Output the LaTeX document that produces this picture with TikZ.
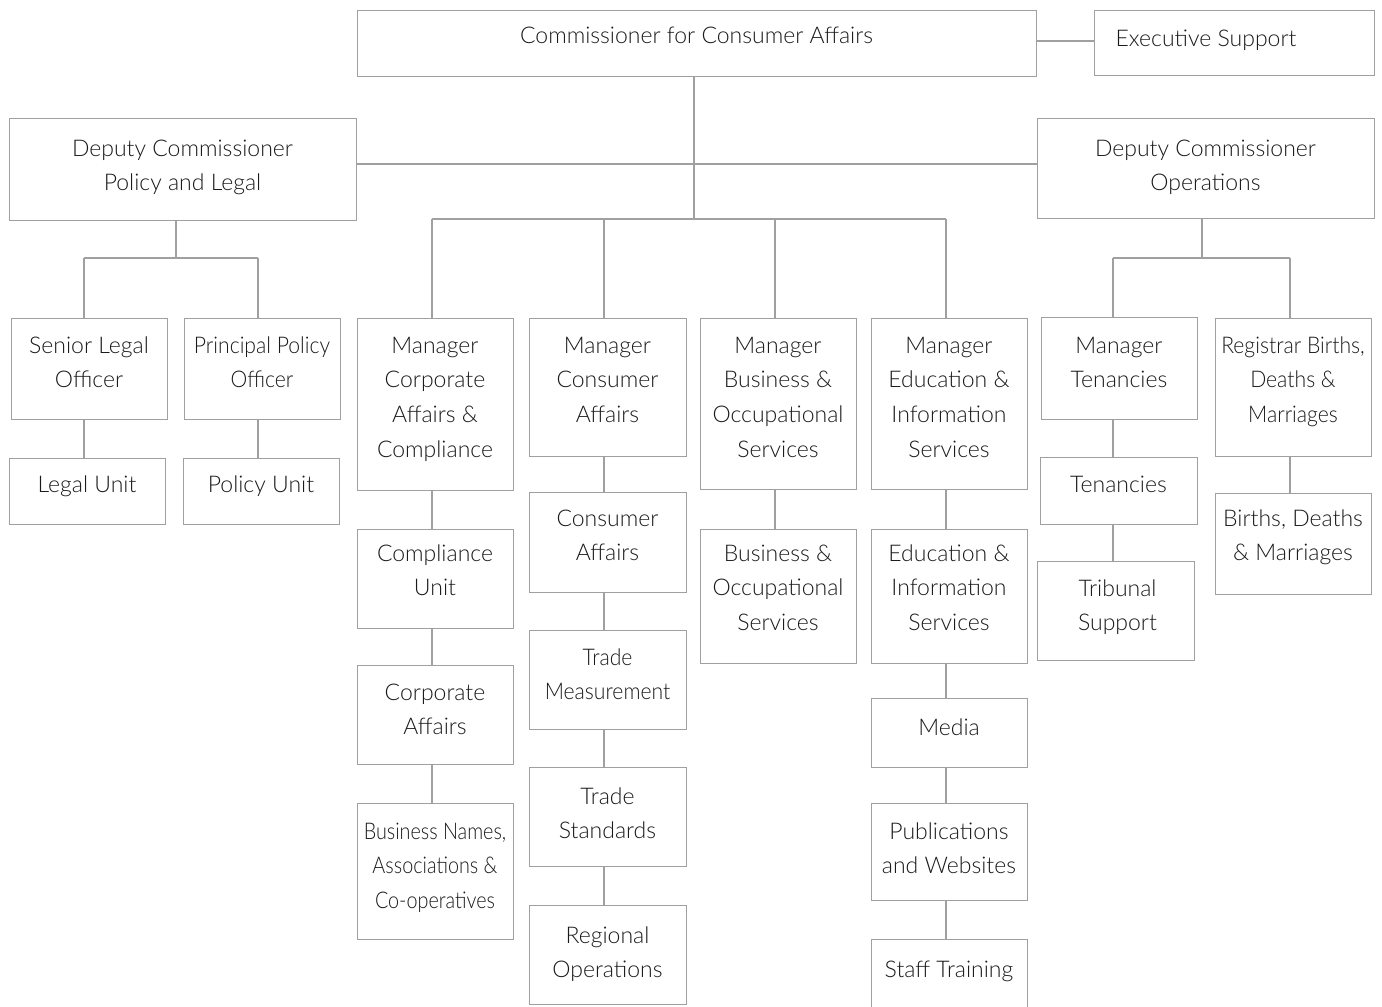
\documentclass[tikz,border=0pt]{standalone}
\usepackage{fontspec}
\setmainfont{Lato Light}
\newfontfamily\narrowfont{Lato Light}[FakeStretch=0.86]
\newfontfamily\semifont{Lato Light}[FakeStretch=0.92]
\definecolor{edge}{HTML}{A0A0A0}
\definecolor{ink}{HTML}{1A1A1A}
\tikzset{
  orgnode/.style={draw=edge, line width=1.2pt, fill=white, inner sep=0pt, rectangle},
  orglabel/.style={text=ink, align=center, inner sep=0pt, font=\fontsize{23}{34.7}\selectfont},
  narrowlabel/.style={font=\fontsize{23}{34.7}\narrowfont},
  semilabel/.style={font=\fontsize{23}{34.7}\semifont},
  conn/.style={draw=edge, line width=1.2pt}
}
\newcommand{\orgbox}[8]{%
  \pgfmathsetmacro{\obw}{#4-#2}\pgfmathsetmacro{\obh}{#5-#3}%
  \node[orgnode, minimum width=\obw pt, minimum height=\obh pt, anchor=north west] (#1) at (#2,#3) {};
  \node[orglabel, anchor=north, #7] (#1-t) at ({(#2+#4)/2},{#6-24.3}) {\strut #8};
}
\begin{document}
\begin{tikzpicture}[x=1pt,y=-1pt]
\useasboundingbox[fill=white] (0,0) rectangle (1382,1007);
% top
\orgbox{comm}{357}{10}{1036}{76}{43}{}{Commissioner for Consumer Affairs}
\orgbox{exec}{1094}{10}{1374}{75}{46}{xshift=-28pt}{Executive Support}
\orgbox{dpl}{9}{118}{356}{220}{156}{}{Deputy Commissioner\\Policy and Legal}
\orgbox{dop}{1037}{118}{1374}{218}{156}{}{Deputy Commissioner\\Operations}
% left branch
\orgbox{slo}{11}{318}{167}{419}{353}{}{Senior Legal\\Officer}
\orgbox{ppo}{184}{318}{340}{419}{353}{semilabel}{Principal Policy\\Officer}
\orgbox{lu}{9}{458}{165}{524}{492}{}{Legal Unit}
\orgbox{pu}{183}{458}{339}{524}{492}{}{Policy Unit}
% column 1
\orgbox{mcac}{357}{318}{513}{490}{353}{}{Manager\\Corporate\\Affairs \&\\Compliance}
\orgbox{cu}{357}{529}{513}{628}{561}{}{Compliance\\Unit}
\orgbox{ca}{357}{665}{513}{764}{700}{}{Corporate\\Affairs}
\orgbox{bn}{357}{803}{513}{939}{839}{narrowlabel}{Business Names,\\Associations \&\\Co-operatives}
% column 2
\orgbox{mca}{529}{318}{686}{456}{353}{}{Manager\\Consumer\\Affairs}
\orgbox{cons}{529}{492}{686}{592}{526}{}{Consumer\\Affairs}
\orgbox{tm}{529}{630}{686}{729}{665}{semilabel}{Trade\\Measurement}
\orgbox{ts}{529}{767}{686}{866}{804}{}{Trade\\Standards}
\orgbox{ro}{529}{905}{686}{1004}{943}{}{Regional\\Operations}
% column 3
\orgbox{mbos}{700}{318}{856}{489}{353}{}{Manager\\Business \&\\Occupational\\Services}
\orgbox{bos}{700}{529}{856}{663}{561}{}{Business \&\\Occupational\\Services}
% column 4
\orgbox{meis}{871}{318}{1027}{489}{353}{}{Manager\\Education \&\\Information\\Services}
\orgbox{eis}{871}{529}{1027}{663}{561}{}{Education \&\\Information\\Services}
\orgbox{media}{871}{698}{1027}{767}{735}{}{Media}
\orgbox{pub}{871}{803}{1027}{900}{839}{}{Publications\\and Websites}
\orgbox{st}{871}{939}{1027}{1030}{977}{}{Staff Training}
% right branch
\orgbox{mten}{1041}{317}{1197}{419}{353}{}{Manager\\Tenancies}
\orgbox{ten}{1040}{457}{1197}{524}{492}{}{Tenancies}
\orgbox{trib}{1037}{561}{1194}{660}{596}{xshift=2pt}{Tribunal\\Support}
\orgbox{reg}{1215}{318}{1371}{456}{353}{semilabel}{Registrar Births,\\Deaths \&\\Marriages}
\orgbox{bdm}{1215}{493}{1371}{594}{526}{}{Births, Deaths\\\& Marriages}
% junction coordinates
\coordinate (e0) at (0,41);
\coordinate (j0) at (694,164);
\coordinate (c1) at (432,219);
\coordinate (c2) at (604,219);
\coordinate (c3) at (775,219);
\coordinate (c4) at (946,219);
\coordinate (lb) at (176,258);
\coordinate (l1) at (84,258);
\coordinate (l2) at (258,258);
\coordinate (rb) at (1202,258);
\coordinate (r1) at (1113,258);
\coordinate (r2) at (1290,258);
% connectors
\draw[conn] (comm.east |- e0) -- (exec.west |- e0);
\draw[conn] (comm.south -| j0) -- (c1 -| j0);
\draw[conn] (dpl.east |- j0) -- (dop.west |- j0);
\draw[conn] (c1) -- (c4);
\draw[conn] (c1) -- (mcac.north -| c1);
\draw[conn] (c2) -- (mca.north -| c2);
\draw[conn] (c3) -- (mbos.north -| c3);
\draw[conn] (c4) -- (meis.north -| c4);
\draw[conn] (mcac.south -| c1) -- (cu.north -| c1);
\draw[conn] (cu.south -| c1) -- (ca.north -| c1);
\draw[conn] (ca.south -| c1) -- (bn.north -| c1);
\draw[conn] (mca.south -| c2) -- (cons.north -| c2);
\draw[conn] (cons.south -| c2) -- (tm.north -| c2);
\draw[conn] (tm.south -| c2) -- (ts.north -| c2);
\draw[conn] (ts.south -| c2) -- (ro.north -| c2);
\draw[conn] (mbos.south -| c3) -- (bos.north -| c3);
\draw[conn] (meis.south -| c4) -- (eis.north -| c4);
\draw[conn] (eis.south -| c4) -- (media.north -| c4);
\draw[conn] (media.south -| c4) -- (pub.north -| c4);
\draw[conn] (pub.south -| c4) -- (st.north -| c4);
\draw[conn] (dpl.south -| lb) -- (lb);
\draw[conn] (l1) -- (l2);
\draw[conn] (l1) -- (slo.north -| l1);
\draw[conn] (l2) -- (ppo.north -| l2);
\draw[conn] (slo.south -| l1) -- (lu.north -| l1);
\draw[conn] (ppo.south -| l2) -- (pu.north -| l2);
\draw[conn] (dop.south -| rb) -- (rb);
\draw[conn] (r1) -- (r2);
\draw[conn] (r1) -- (mten.north -| r1);
\draw[conn] (r2) -- (reg.north -| r2);
\draw[conn] (mten.south -| r1) -- (ten.north -| r1);
\draw[conn] (ten.south -| r1) -- (trib.north -| r1);
\draw[conn] (reg.south -| r2) -- (bdm.north -| r2);
\end{tikzpicture}
\end{document}
